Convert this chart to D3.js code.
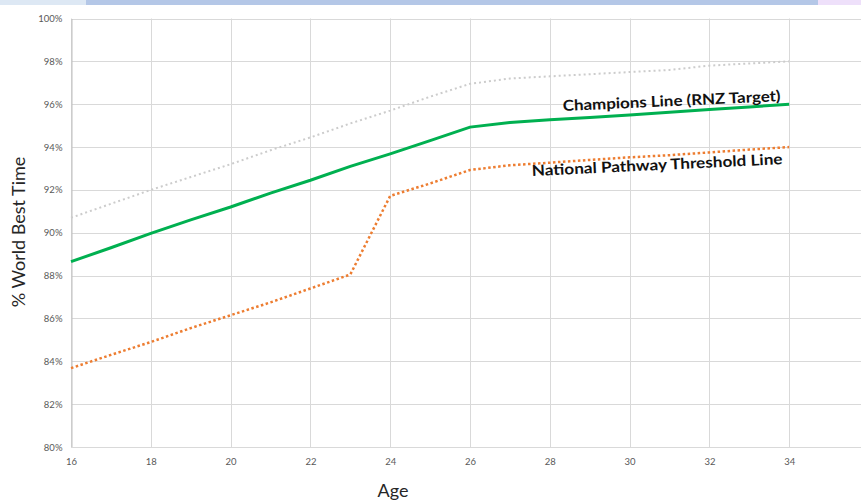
<!DOCTYPE html>
<html>
<head>
<meta charset="utf-8">
<title>% World Best Time by Age</title>
<script src="https://cdn.jsdelivr.net/npm/d3@7"></script>
<style>
  body { margin: 0; background: #fff; }
  svg { display: block; }
  .tick text { font-family: 'Lato', 'Open Sans', sans-serif; font-size: 9.5px; fill: #595959; }
  .grid line { stroke: #d9d9d9; stroke-width: 1; }
  .axis-title { font-family: 'Lato', 'Open Sans', sans-serif; font-size: 18px; fill: #262626; }
  .series-label { font-family: 'Lato', sans-serif; font-weight: bold; font-size: 15px; fill: #111; }
</style>
</head>
<body>
<div id="chart"></div>
<script>
// ages (x) and the three series, in % of world best time
var ages = [16, 17, 18, 19, 20, 21, 22, 23, 24, 25, 26, 27, 28, 29, 30, 31, 32, 33, 34];
var worldBest = [90.7, 91.35, 92.0, 92.6, 93.2, 93.85, 94.45, 95.1, 95.7, 96.35, 96.95, 97.2, 97.3, 97.4, 97.5, 97.6, 97.8, 97.9, 98.0];
var champions = [88.65, 89.3, 89.97, 90.6, 91.2, 91.85, 92.45, 93.1, 93.68, 94.3, 94.93, 95.15, 95.27, 95.38, 95.5, 95.62, 95.75, 95.87, 96.0];
var pathway = [83.68, 84.3, 84.9, 85.55, 86.15, 86.75, 87.4, 88.05, 91.72, 92.3, 92.93, 93.15, 93.27, 93.4, 93.52, 93.62, 93.75, 93.88, 94.0];
var xTicks = [16, 18, 20, 22, 24, 26, 28, 30, 32, 34];
var yTicks = [80, 82, 84, 86, 88, 90, 92, 94, 96, 98, 100];

var width = 861, height = 502;

var svg = d3.select('#chart').append('svg')
  .attr('width', width)
  .attr('height', height);

// thin coloured band across the top of the slide
svg.append('rect').attr('x', 0).attr('y', 0).attr('width', 86).attr('height', 5).attr('fill', '#dde8f4');
svg.append('rect').attr('x', 86).attr('y', 0).attr('width', 732).attr('height', 5).attr('fill', '#b4c7e7');
svg.append('rect').attr('x', 818).attr('y', 0).attr('width', 43).attr('height', 5).attr('fill', '#eee0fa');

var x = d3.scaleLinear().domain([16, 36]).range([71, 869]);
var y = d3.scaleLinear().domain([80, 100]).range([447, 18.5]);

// gridlines
svg.append('g').attr('class', 'grid')
  .selectAll('line.h').data(yTicks).enter().append('line')
  .attr('x1', 71).attr('x2', width)
  .attr('y1', function(d) { return Math.round(y(d)) + 0.5; })
  .attr('y2', function(d) { return Math.round(y(d)) + 0.5; });

svg.append('g').attr('class', 'grid')
  .selectAll('line.v').data(xTicks).enter().append('line')
  .attr('y1', y(100)).attr('y2', y(80))
  .attr('x1', function(d) { return Math.round(x(d)) + 0.5; })
  .attr('x2', function(d) { return Math.round(x(d)) + 0.5; });

// axes
var yAxis = d3.axisLeft(y).tickValues(yTicks).tickSize(0).tickPadding(9)
  .tickFormat(function(d) { return d + '%'; });
svg.append('g').attr('transform', 'translate(71.5,0)').call(yAxis)
  .call(function(g) { g.select('.domain').attr('stroke', '#bfbfbf'); });

var xAxis = d3.axisBottom(x).tickValues(xTicks).tickSize(0).tickPadding(11);
svg.append('g').attr('transform', 'translate(0,' + (Math.round(y(80)) + 0.5) + ')').call(xAxis)
  .call(function(g) { g.select('.domain').attr('stroke', '#d9d9d9').attr('d', 'M71,0H' + width); });

// series
var line = d3.line()
  .x(function(d) { return x(d[0]); })
  .y(function(d) { return y(d[1]); });

function pairs(vals) { return ages.map(function(a, i) { return [a, vals[i]]; }); }

svg.append('path').datum(pairs(worldBest))
  .attr('d', line).attr('fill', 'none')
  .attr('stroke', '#cccccc').attr('stroke-width', 2)
  .attr('stroke-dasharray', '2,3');

svg.append('path').datum(pairs(pathway))
  .attr('d', line).attr('fill', 'none')
  .attr('stroke', '#ed7d31').attr('stroke-width', 2.5)
  .attr('stroke-dasharray', '2.5,2.5');

svg.append('path').datum(pairs(champions))
  .attr('d', line).attr('fill', 'none')
  .attr('stroke', '#00b050').attr('stroke-width', 3);

// series labels
svg.append('text').attr('class', 'series-label')
  .attr('transform', 'translate(563,111) rotate(-2.6)')
  .attr('textLength', 218).attr('lengthAdjust', 'spacingAndGlyphs')
  .text('Champions Line (RNZ Target)');

svg.append('text').attr('class', 'series-label')
  .attr('transform', 'translate(532,176) rotate(-2.7)')
  .attr('textLength', 251).attr('lengthAdjust', 'spacingAndGlyphs')
  .text('National Pathway Threshold Line');

// axis titles
svg.append('text').attr('class', 'axis-title')
  .attr('transform', 'translate(25,' + 232 + ') rotate(-90)')
  .attr('text-anchor', 'middle')
  .text('% World Best Time');

svg.append('text').attr('class', 'axis-title')
  .attr('x', 393).attr('y', 497)
  .attr('text-anchor', 'middle')
  .text('Age');
</script>
</body>
</html>
